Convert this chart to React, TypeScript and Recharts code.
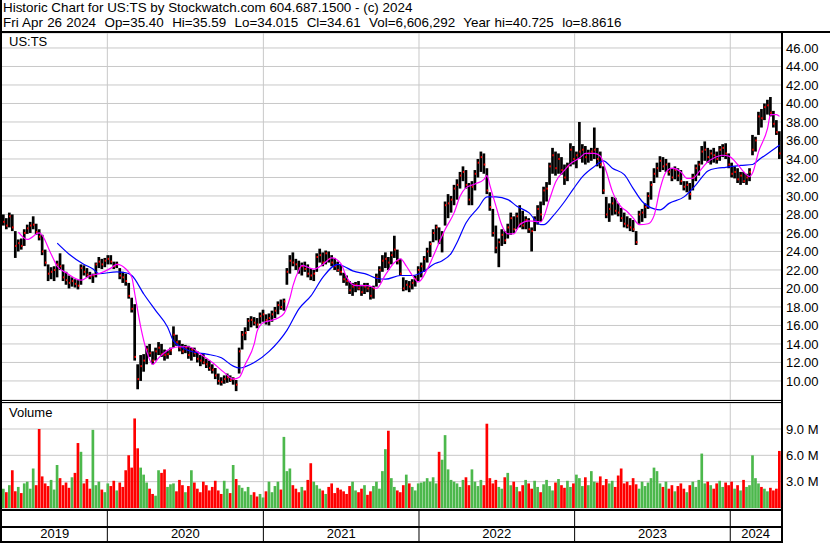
import { ComposedChart, Bar, Line, XAxis, YAxis, CartesianGrid, Cell } from "recharts";

const FONT = "'Liberation Sans', Arial, sans-serif";

// weekly bars, week 0 = Apr 29 2019 ... week 260 = Apr 22 2024
const weekHigh = [
  28.0, 27.6, 28.2, 28.0, 26.2, 25.3, 25.4, 26.4, 26.9, 27.2,
  27.8, 27.0, 26.4, 25.8, 24.2, 22.6, 22.3, 22.4, 23.0, 23.8,
  22.6, 21.8, 21.4, 21.2, 21.0, 20.9, 22.6, 22.5, 22.2, 21.8,
  21.6, 22.8, 23.4, 23.2, 23.3, 23.6, 23.6, 22.9, 22.9, 22.2,
  21.8, 21.6, 20.6, 19.0, 18.3, 11.8, 12.8, 12.9, 13.8, 14.0,
  13.2, 13.6, 14.2, 14.0, 13.4, 13.3, 13.6, 15.9, 15.0, 14.4,
  14.0, 13.9, 13.8, 13.6, 13.6, 13.2, 12.8, 12.9, 12.4, 12.2,
  11.8, 11.4, 10.8, 10.4, 10.6, 10.8, 10.6, 10.4, 10.1, 13.6,
  15.4, 15.8, 16.8, 17.0, 16.9, 16.8, 17.4, 17.7, 17.2, 17.3,
  17.6, 18.0, 18.6, 18.8, 18.9, 22.2, 23.6, 23.9, 23.2, 23.0,
  22.8, 22.9, 22.6, 22.2, 22.0, 23.8, 24.3, 23.9, 24.1, 24.0,
  23.6, 23.3, 22.9, 22.6, 21.7, 21.4, 20.8, 20.6, 20.7, 20.8,
  20.4, 20.6, 20.6, 20.2, 20.3, 21.6, 22.4, 23.6, 23.9, 23.4,
  24.0, 25.7, 24.2, 23.2, 21.2, 20.9, 20.8, 21.0, 21.4, 22.4,
  22.8, 23.5, 24.4, 25.1, 26.4, 26.9, 26.6, 26.2, 29.4, 30.2,
  30.0, 31.2, 31.8, 32.6, 33.2, 32.8, 31.4, 31.6, 32.8, 34.0,
  34.8, 34.6, 33.0, 30.4, 28.6, 26.8, 25.4, 26.4, 26.2, 27.0,
  28.2, 27.8, 28.2, 29.0, 28.4, 27.8, 27.6, 26.6, 27.8, 29.0,
  29.4, 31.0, 31.5, 33.6, 35.2, 34.8, 34.6, 34.2, 33.4, 33.6,
  35.7, 35.4, 34.8, 38.0, 35.6, 35.4, 35.0, 35.2, 37.4, 35.2,
  34.8, 33.2, 29.9, 29.2, 29.9, 29.8, 29.2, 28.7, 28.2, 27.8,
  27.6, 27.4, 26.2, 28.4, 28.6, 29.2, 30.4, 31.6, 33.0, 33.6,
  34.3, 34.2, 34.0, 33.6, 33.0, 33.2, 33.0, 32.8, 31.6, 31.6,
  31.4, 32.4, 33.4, 33.8, 35.4, 35.9, 35.2, 35.0, 35.2, 34.8,
  35.4, 35.6, 35.7, 34.6, 33.6, 33.2, 33.0, 32.6, 32.6, 32.4,
  33.0, 36.6, 36.4, 39.1, 39.4, 40.0, 40.4, 40.7, 39.2, 38.2, 37.0,
];

const weekLow = [
  26.8, 26.4, 26.6, 26.2, 23.3, 24.0, 24.2, 24.6, 25.9, 26.0,
  26.4, 25.8, 25.2, 23.6, 22.4, 20.8, 21.0, 20.8, 21.2, 22.0,
  20.8, 20.4, 20.0, 20.2, 20.1, 19.9, 20.4, 21.4, 21.2, 21.0,
  20.6, 21.2, 22.2, 22.1, 22.3, 22.6, 22.6, 22.1, 22.2, 21.0,
  20.6, 20.3, 18.9, 17.4, 12.2, 9.1, 10.0, 11.0, 11.8, 12.6,
  11.8, 12.2, 12.8, 12.6, 12.2, 12.4, 12.8, 13.6, 13.8, 13.2,
  12.9, 13.0, 12.4, 12.2, 12.6, 12.0, 11.6, 11.8, 11.4, 11.1,
  10.8, 10.2, 9.6, 9.5, 9.7, 9.8, 9.9, 9.6, 8.9, 10.8,
  13.4, 14.4, 15.4, 15.8, 16.0, 15.7, 16.2, 16.4, 16.1, 16.0,
  16.4, 16.8, 17.2, 17.7, 17.6, 20.4, 21.6, 22.4, 22.0, 21.6,
  21.4, 21.8, 21.2, 20.9, 20.8, 21.8, 22.8, 22.4, 22.6, 22.8,
  22.4, 22.0, 21.8, 21.4, 20.6, 20.3, 19.4, 19.2, 19.6, 19.8,
  19.2, 19.4, 19.6, 18.8, 18.9, 20.2, 20.6, 21.8, 22.2, 22.0,
  22.6, 23.3, 22.6, 21.4, 19.7, 19.8, 19.6, 19.9, 20.2, 20.8,
  21.2, 21.8, 22.8, 23.4, 25.0, 25.2, 24.8, 23.9, 26.8, 27.6,
  28.2, 29.0, 29.6, 30.8, 31.6, 30.8, 29.0, 29.0, 30.6, 32.0,
  32.6, 32.4, 30.2, 28.4, 25.6, 23.8, 22.3, 24.6, 24.8, 25.4,
  25.8, 26.0, 26.4, 26.6, 26.4, 26.4, 26.0, 24.0, 26.2, 26.9,
  27.2, 29.0, 29.4, 31.2, 32.4, 32.2, 32.4, 32.3, 31.2, 31.6,
  33.2, 33.4, 33.0, 34.0, 33.6, 33.4, 33.6, 33.8, 34.0, 33.2,
  33.0, 30.2, 27.6, 27.2, 27.9, 28.0, 27.8, 27.2, 26.6, 26.5,
  26.2, 26.1, 24.7, 27.0, 27.2, 27.6, 28.6, 29.6, 31.4, 32.0,
  32.6, 32.8, 32.6, 32.2, 31.6, 31.8, 31.6, 31.2, 30.6, 30.4,
  29.6, 30.6, 31.6, 32.2, 33.4, 33.8, 33.6, 33.4, 33.6, 33.5,
  33.8, 34.2, 34.0, 33.0, 32.0, 31.9, 31.4, 31.2, 31.4, 31.2,
  31.6, 34.4, 34.8, 36.6, 37.4, 38.2, 38.8, 38.6, 37.4, 36.6, 34.0,
];

const weekClose = [
  27.2, 26.8, 27.8, 26.6, 24.6, 24.9, 24.6, 26.0, 26.5, 26.8,
  26.9, 26.1, 25.6, 24.0, 22.8, 21.6, 21.8, 22.0, 22.6, 22.4,
  21.2, 20.9, 20.6, 20.8, 20.5, 20.3, 22.2, 21.8, 21.5, 21.3,
  21.4, 22.6, 22.9, 22.6, 23.0, 23.2, 22.9, 22.4, 22.6, 21.4,
  21.2, 20.8, 19.2, 17.8, 12.6, 10.2, 11.6, 12.2, 13.4, 13.0,
  12.2, 13.2, 13.6, 12.9, 12.8, 12.9, 13.3, 15.0, 14.2, 13.6,
  13.2, 13.6, 12.8, 13.4, 13.0, 12.4, 12.2, 12.0, 11.8, 11.4,
  11.2, 10.6, 10.0, 9.9, 10.2, 10.4, 10.1, 10.2, 9.6, 13.2,
  15.0, 15.2, 16.5, 16.6, 16.3, 16.1, 17.0, 17.2, 16.6, 16.8,
  17.2, 17.6, 18.2, 18.0, 18.6, 21.8, 23.0, 22.8, 22.6, 22.2,
  22.4, 22.1, 21.6, 21.4, 21.6, 23.4, 23.6, 22.8, 23.8, 23.2,
  22.8, 22.4, 22.0, 21.8, 21.0, 20.8, 19.8, 20.2, 20.4, 20.0,
  19.6, 20.2, 20.0, 19.2, 20.0, 21.2, 22.0, 23.0, 23.2, 22.8,
  23.6, 24.2, 23.0, 21.6, 20.0, 20.4, 20.2, 20.6, 21.0, 22.0,
  22.4, 23.2, 24.0, 24.8, 26.0, 26.6, 25.2, 25.8, 29.0, 29.2,
  29.6, 30.8, 31.2, 32.2, 32.6, 31.2, 29.6, 31.0, 32.4, 33.6,
  34.2, 33.4, 30.6, 28.8, 26.0, 24.4, 25.0, 25.8, 25.2, 26.6,
  27.6, 26.4, 27.8, 27.0, 26.8, 27.4, 26.4, 26.2, 27.4, 28.6,
  28.0, 30.6, 30.8, 33.2, 34.4, 33.0, 34.0, 32.8, 32.0, 33.2,
  35.0, 34.0, 34.4, 34.8, 35.0, 34.2, 34.6, 34.8, 35.0, 34.0,
  33.4, 30.6, 28.0, 28.6, 29.2, 28.4, 28.2, 27.6, 27.0, 26.8,
  26.6, 26.4, 25.0, 28.0, 28.2, 28.8, 30.0, 31.2, 32.4, 33.0,
  33.8, 33.2, 33.4, 32.6, 32.0, 32.8, 32.2, 31.6, 31.0, 31.2,
  30.2, 32.0, 33.0, 33.4, 34.8, 35.0, 34.2, 34.6, 34.4, 34.0,
  35.0, 35.2, 34.6, 33.4, 32.4, 32.6, 31.8, 32.2, 31.6, 32.0,
  32.6, 35.0, 36.0, 38.6, 38.4, 39.6, 39.8, 39.0, 37.8, 36.9, 34.6,
];

// volume, millions of shares
const weekVolume = [
  2.2, 1.8, 2.6, 4.3, 1.9, 2.4, 1.7, 2.8, 3.0, 2.2,
  4.5, 2.6, 9.0, 3.6, 2.8, 2.5, 3.2, 2.1, 4.9, 3.4,
  2.6, 2.9, 2.3, 3.5, 4.0, 7.4, 6.4, 2.8, 3.3, 2.2,
  8.9, 2.6, 3.0, 2.1, 1.8, 2.8, 2.5, 3.1, 2.0, 2.9,
  2.4, 4.3, 6.0, 4.6, 10.2, 6.8, 4.6, 3.8, 2.9, 2.2,
  1.6, 1.4, 4.3, 4.0, 4.4, 2.4, 2.7, 2.8, 1.9, 3.2,
  2.6, 1.8, 2.5, 4.3, 2.9, 2.2, 1.8, 3.0, 2.6, 2.0,
  2.4, 3.1, 2.0, 1.6, 3.1, 2.2, 1.7, 4.9, 3.3, 2.6,
  2.3, 1.9, 2.4, 1.5, 1.8, 1.3, 1.6, 1.2, 1.9, 3.0,
  1.8, 2.5, 3.0, 2.1, 8.1, 4.2, 4.5, 2.6, 2.2, 1.8,
  2.4, 2.0, 3.2, 5.1, 3.0, 2.6, 2.2, 2.0, 1.6, 2.4,
  2.8, 1.7, 2.3, 2.1, 1.9, 1.6, 2.5, 3.0, 2.0, 1.8,
  2.2, 2.6, 1.5, 1.9, 2.5, 3.0, 2.2, 4.2, 6.7, 8.8,
  3.4, 2.4, 2.0, 1.8, 2.6, 3.8, 2.8, 2.4, 2.0, 2.8,
  2.9, 3.0, 3.4, 3.0, 3.5, 2.8, 6.4, 5.5, 8.3, 4.4,
  3.2, 3.0, 2.8, 2.4, 3.2, 3.5, 2.6, 4.4, 3.0, 2.5,
  3.2, 2.6, 9.6, 3.4, 2.8, 3.2, 2.4, 2.2, 3.5, 4.0,
  2.6, 3.0, 2.4, 1.9, 2.6, 3.2, 2.8, 2.2, 3.1, 2.4,
  1.8, 2.7, 3.2, 2.5, 2.0, 2.9, 3.3, 2.6, 2.3, 3.1,
  2.4, 2.8, 3.8, 3.4, 2.5, 3.5, 2.6, 4.2, 3.0, 2.9,
  3.6, 2.6, 3.3, 2.8, 3.1, 2.4, 3.7, 4.5, 2.8, 3.0,
  2.6, 3.4, 2.7, 2.2, 3.0, 2.5, 2.9, 3.4, 4.6, 4.2,
  2.8, 2.4, 3.0, 2.2, 2.6, 1.9, 2.5, 2.8, 2.2, 1.8,
  2.6, 3.0, 2.4, 3.2, 6.2, 2.8, 3.0, 2.6, 2.2, 2.8,
  3.1, 2.4, 2.9, 2.6, 3.0, 2.2, 2.6, 2.0, 3.2, 2.4,
  2.6, 6.0, 3.4, 2.8, 2.4, 2.2, 1.9, 2.3, 2.0, 2.2, 6.5,
];

// moving averages: [week, value]
const fastMa: [number, number][] = [
  [5, 26.1], [8, 25.3], [12, 26.0], [16, 23.7], [18, 22.4], [21, 21.7], [26, 20.9], [29, 21.4],
  [32, 21.6], [36, 22.2], [38, 22.6], [41, 22.1], [43, 21.2], [44, 19.4], [46, 15.8], [48, 13.2],
  [50, 11.8], [52, 12.5], [56, 13.5], [59, 13.7], [62, 13.7], [66, 12.9], [70, 12.0], [74, 10.9],
  [77, 10.2], [79, 10.4], [81, 11.8], [84, 14.0], [85, 15.4], [87, 16.3], [89, 16.5], [92, 16.8],
  [94, 17.3], [96, 19.0], [97, 20.3], [99, 22.0], [100, 22.5], [104, 22.1], [107, 22.6], [110, 23.3],
  [113, 22.7], [115, 21.2], [118, 20.3], [122, 20.3], [125, 20.0], [128, 21.5], [131, 22.8], [133, 23.2],
  [135, 22.4], [137, 21.4], [139, 20.7], [142, 22.1], [144, 23.5], [146, 25.0], [148, 26.4], [151, 28.2],
  [153, 30.0], [155, 30.9], [158, 31.3], [161, 31.8], [162, 32.2], [163, 31.1], [165, 28.9], [167, 26.8],
  [169, 25.9], [171, 25.9], [173, 26.9], [176, 27.3], [180, 27.2], [183, 29.7], [185, 31.5], [188, 32.8],
  [190, 33.5], [193, 34.1], [195, 34.6], [198, 34.6], [200, 34.3], [202, 32.6], [204, 30.5], [207, 28.8],
  [209, 28.3], [211, 27.6], [213, 26.9], [216, 27.0], [218, 27.9], [220, 30.8], [222, 32.6], [224, 33.0],
  [227, 32.6], [229, 31.9], [231, 31.9], [233, 32.6], [236, 33.7], [238, 34.1], [241, 34.4], [243, 34.3],
  [246, 33.4], [248, 32.6], [250, 32.1], [251, 32.5], [253, 34.8], [256, 37.3], [257, 38.8], [259, 38.8],
  [260, 38.6],
];

const slowMa: [number, number][] = [
  [18, 24.9], [22, 23.7], [27, 22.6], [30, 22.1], [32, 21.6], [38, 21.8], [41, 21.7], [43, 21.4],
  [47, 19.4], [51, 17.6], [55, 15.8], [57, 14.3], [60, 13.6], [64, 13.1], [68, 12.9], [73, 12.5],
  [77, 11.6], [79, 11.4], [84, 12.0], [89, 13.2], [95, 15.5], [99, 17.8], [103, 19.2], [107, 21.2],
  [112, 22.6], [114, 22.4], [117, 21.9], [122, 21.5], [125, 21.1], [128, 21.0], [133, 21.4], [137, 21.4],
  [141, 21.9], [144, 22.6], [147, 23.0], [150, 23.8], [152, 25.0], [155, 27.1], [159, 28.7], [162, 29.9],
  [165, 29.9], [169, 29.6], [172, 28.9], [176, 28.2], [180, 26.9], [181, 26.9], [184, 27.8], [188, 29.4],
  [191, 30.8], [194, 32.1], [198, 33.2], [201, 33.8], [204, 33.0], [208, 32.3], [211, 30.8], [214, 29.4],
  [218, 28.6], [220, 28.5], [223, 29.2], [228, 29.9], [232, 31.2], [236, 32.7], [239, 33.0], [242, 33.1],
  [247, 33.3], [251, 33.4], [253, 33.9], [257, 34.8], [260, 35.5],
];

const yearLabels = ["2019", "2020", "2021", "2022", "2023", "2024"];
// Jan 1 of each year, in weeks
const yearStarts = [34.79, 87.07, 139.21, 191.36, 243.5];
const priceTicks = [10, 12, 14, 16, 18, 20, 22, 24, 26, 28, 30, 32, 34, 36, 38, 40, 42, 44, 46];
const volumeTicks = [3, 6, 9];

const X_DOMAIN: [number, number] = [-0.5, 260.5];
const edges = [X_DOMAIN[0], ...yearStarts, X_DOMAIN[1]];
const yearMids = yearLabels.map((_, k) => (edges[k] + edges[k + 1]) / 2);

type Row = {
  i: number;
  hi: number;
  lo: number;
  cl: number;
  range: [number, number];
  vol: number;
  up: boolean;
  fast?: number;
  slow?: number;
};

const rows: Row[] = weekClose.map((cl, i) => ({
  i,
  hi: weekHigh[i],
  lo: weekLow[i],
  cl,
  range: [weekLow[i], weekHigh[i]],
  vol: weekVolume[i],
  up: i === 0 || cl >= weekClose[i - 1],
}));
fastMa.forEach(([w, v]) => (rows[w].fast = v));
slowMa.forEach(([w, v]) => (rows[w].slow = v));

function OhlcBar(props: any) {
  const { x, y, width, height, payload } = props;
  const top = Math.min(y, y + height);
  const h = Math.max(Math.abs(height), 1);
  const span = payload.hi - payload.lo || 1;
  const cy = top + ((payload.hi - payload.cl) / span) * h;
  return (
    <g>
      <rect x={x} y={top} width={width} height={h} fill="#000" />
      <rect x={x + width - 1.5} y={cy - 1} width={1.5} height={2} fill="#ff0000" />
    </g>
  );
}

function YearTick(props: any) {
  const { x, y, payload } = props;
  const k = yearMids.indexOf(payload.value);
  if (k < 0) {
    return <line x1={x} x2={x} y1={y + 2} y2={y + 34} stroke="#000" strokeWidth={1} />;
  }
  return (
    <text x={x} y={y + 30} textAnchor="middle" fontSize={13} fontFamily={FONT} fill="#000">
      {yearLabels[k]}
    </text>
  );
}

const axisTick = { fill: "#000", fontSize: 13, fontFamily: FONT };

function Rule({ top, left = 0, width = 783, height = 1 }: { top: number; left?: number; width?: number; height?: number }) {
  return <div style={{ position: "absolute", top, left, width, height, background: "#000" }} />;
}

export default function App() {
  return (
    <div
      style={{
        position: "absolute",
        left: 0,
        top: 0,
        width: 830,
        height: 543,
        background: "#fff",
        fontFamily: FONT,
        color: "#000",
        overflow: "hidden",
      }}
    >
      <div style={{ position: "absolute", left: 3, top: 0, fontSize: 13.4, lineHeight: "15px", whiteSpace: "pre" }}>
        Historic Chart for US:TS by Stockwatch.com 604.687.1500 - (c) 2024
      </div>
      <div
        style={{
          position: "absolute",
          left: 3,
          top: 15,
          fontSize: 13.4,
          lineHeight: "15px",
          whiteSpace: "pre",
          wordSpacing: 0.5,
        }}
      >
        {"Fri Apr 26 2024  Op=35.40  Hi=35.59  Lo=34.015  Cl=34.61  Vol=6,606,292  Year hi=40.725  lo=8.8616"}
      </div>

      <div style={{ position: "absolute", left: 0, top: 33 }}>
        <ComposedChart width={830} height={367} data={rows} margin={{ top: 0, right: 0, bottom: 0, left: 2 }}>
          <CartesianGrid stroke="#c8c8c8" verticalValues={yearStarts} />
          <XAxis type="number" dataKey="i" domain={X_DOMAIN} ticks={yearStarts} allowDataOverflow hide />
          <YAxis
            orientation="right"
            type="number"
            domain={[7.94, 47.62]}
            ticks={priceTicks}
            interval={0}
            allowDataOverflow
            width={49}
            axisLine={false}
            tickLine={false}
            tickSize={4}
            tickMargin={1}
            tick={axisTick}
            tickFormatter={(v: number) => v.toFixed(2)}
          />
          <Bar dataKey="range" barSize={3} shape={<OhlcBar />} isAnimationActive={false} />
          <Line dataKey="slow" type="monotone" stroke="#0000ff" strokeWidth={1.2} dot={false} connectNulls isAnimationActive={false} />
          <Line dataKey="fast" type="monotone" stroke="#ff00ff" strokeWidth={1.2} dot={false} connectNulls isAnimationActive={false} />
        </ComposedChart>
      </div>

      <div style={{ position: "absolute", left: 0, top: 403 }}>
        <ComposedChart width={830} height={140} data={rows} margin={{ top: 0, right: 0, bottom: 0, left: 2 }}>
          <CartesianGrid stroke="#c8c8c8" verticalValues={yearStarts} />
          <XAxis
            type="number"
            dataKey="i"
            domain={X_DOMAIN}
            ticks={[...yearStarts, ...yearMids]}
            interval={0}
            allowDataOverflow
            height={35}
            axisLine={false}
            tickLine={false}
            tickSize={0}
            tickMargin={0}
            tick={<YearTick />}
          />
          <YAxis
            orientation="right"
            type="number"
            domain={[0, 11.96]}
            ticks={volumeTicks}
            interval={0}
            allowDataOverflow
            width={49}
            axisLine={false}
            tickLine={false}
            tickSize={4}
            tickMargin={1}
            tick={axisTick}
            tickFormatter={(v: number) => `${v.toFixed(1)} M`}
          />
          <Bar dataKey="vol" barSize={3} isAnimationActive={false}>
            {rows.map((r) => (
              <Cell key={r.i} fill={r.up ? "#4cb84c" : "#ff0000"} />
            ))}
          </Bar>
        </ComposedChart>
      </div>

      <div style={{ position: "absolute", left: 9, top: 34, fontSize: 13, lineHeight: "15px" }}>US:TS</div>
      <div style={{ position: "absolute", left: 9, top: 405, fontSize: 13, lineHeight: "15px" }}>Volume</div>

      <Rule top={31} width={830} height={2} />
      <Rule top={400} />
      <Rule top={402} />
      <Rule top={509} height={2} />
      <Rule top={526} height={2} />
      <Rule top={541} height={2} />
      <div style={{ position: "absolute", left: 0, top: 0, width: 2, height: 543, background: "#000" }} />
      <div style={{ position: "absolute", left: 781, top: 31, width: 2, height: 512, background: "#000" }} />
    </div>
  );
}
